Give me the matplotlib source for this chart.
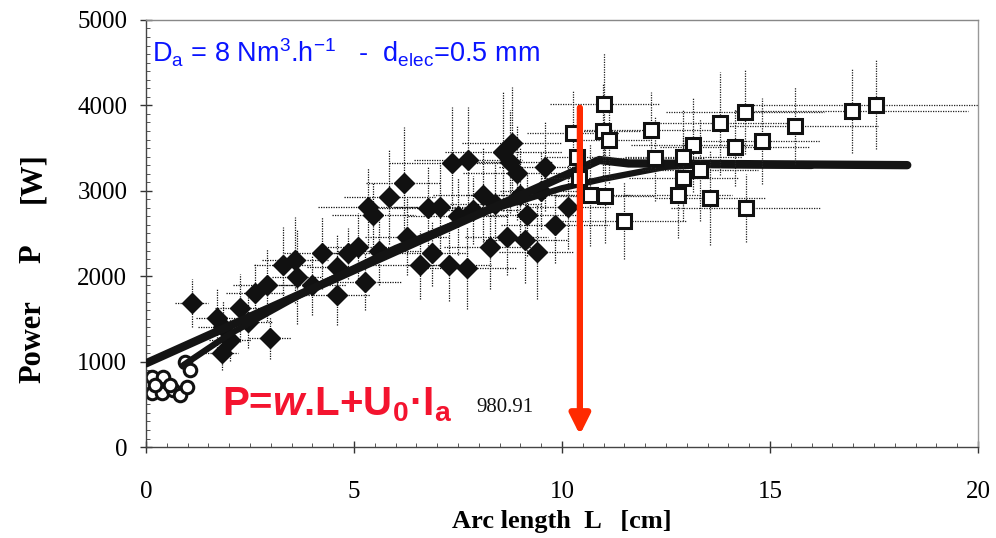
import numpy as np
import matplotlib
matplotlib.use("Agg")
import matplotlib.pyplot as plt
from matplotlib.ticker import MultipleLocator

# filled diamonds: arc length [cm], power [W], x error, y error
dia_L = [1.10, 1.70, 1.85, 2.02, 1.82, 2.26, 2.62, 2.90, 2.98, 3.30, 3.58, 3.62,
         4.22, 4.58, 4.58, 4.86, 5.10, 5.26, 5.34, 5.46, 5.85, 6.19, 6.27, 6.59,
         6.79, 6.87, 7.07, 7.29, 7.35, 7.71, 7.75, 8.11, 8.27, 8.59, 8.75, 8.79,
         8.91, 9.11, 9.15, 9.39, 9.59, 9.83, 10.15, 7.87, 8.67, 2.45, 4.0, 5.6,
         7.5, 8.4, 9.0, 9.5]
dia_P = [1683, 1507, 1405, 1253, 1097, 1628, 1803, 1897, 1276, 2131, 2190, 1994,
         2268, 2111, 1780, 2268, 2345, 1936, 2814, 2717, 2924, 3095, 2463, 2131,
         2795, 2268, 2814, 2131, 3329, 2092, 3361, 2951, 2345, 3458, 3341, 3564,
         3204, 2424, 2717, 2287, 3282, 2600, 2814, 2775, 2463, 1460, 1900, 2300,
         2700, 2850, 2950, 3000]
dia_xe = [0.4, 0.5, 0.6, 0.5, 0.4, 0.6, 0.7, 0.8, 0.5, 0.7, 0.8, 0.6,
          0.9, 0.7, 0.8, 0.6, 0.8, 0.9, 1.2, 1.0, 1.1, 0.9, 1.0, 1.2,
          1.3, 0.9, 1.1, 1.0, 1.5, 1.2, 1.3, 1.2, 1.1, 1.4, 1.0, 1.2,
          1.3, 1.0, 1.2, 0.9, 1.1, 1.3, 1.0, 1.1, 1.0, 0.6, 0.8, 1.0,
          1.2, 1.1, 1.3, 1.0]
dia_ye = [280, 350, 300, 250, 200, 400, 350, 420, 250, 450, 500, 550,
          420, 380, 350, 300, 400, 330, 450, 380, 550, 650, 450, 400,
          500, 380, 520, 420, 650, 480, 620, 550, 500, 700, 600, 650,
          550, 500, 480, 550, 520, 450, 500, 400, 450, 300, 350, 400,
          450, 500, 550, 450]

# open squares
sq_L = [10.26, 11.02, 10.99, 11.14, 12.13, 13.80, 14.40, 13.16, 14.16, 14.80,
        15.60, 16.96, 17.55, 10.37, 12.24, 12.92, 12.92, 13.32, 10.67, 11.03,
        11.49, 12.78, 13.57, 14.42, 10.40]
sq_P = [3681, 4013, 3700, 3595, 3712, 3790, 3926, 3536, 3509, 3583,
        3763, 3938, 4005, 3400, 3380, 3400, 3146, 3243, 2951, 2939,
        2650, 2951, 2912, 2795, 3146]
sq_xe = [1.1, 1.3, 0.9, 1.0, 1.6, 1.8, 1.9, 1.5, 1.8, 1.4,
         2.0, 2.8, 3.0, 0.8, 1.2, 1.4, 1.3, 1.4, 1.0, 1.2,
         1.5, 1.3, 1.3, 1.8, 0.9]
sq_ye = [500, 600, 550, 500, 450, 600, 500, 550, 450, 500,
         450, 500, 520, 450, 500, 550, 500, 600, 600, 550,
         450, 500, 550, 400, 500]

# open circles near the origin
circ_L = [0.14, 0.42, 0.14, 0.38, 0.66, 0.82, 0.98, 0.94, 1.06, 0.22, 0.58]
circ_P = [823, 823, 629, 629, 667, 609, 706, 999, 902, 726, 726]

# fitted curves
fitA_L = [0.0, 10.9, 11.6, 18.3]
fitA_P = [980, 3360, 3320, 3300]
fitB_L = [0.9, 2.0, 4.0, 6.0, 8.0, 10.0, 11.0, 12.5, 13.5, 16.0]
fitB_P = [960, 1320, 1860, 2330, 2730, 3030, 3140, 3280, 3300, 3290]

arrow_L = 10.43
arrow_top, arrow_bottom = 4005, 110

plt.rcParams["mathtext.fontset"] = "custom"
plt.rcParams["mathtext.rm"] = "Liberation Sans"
plt.rcParams["mathtext.bf"] = "Liberation Sans:bold"
plt.rcParams["mathtext.it"] = "Liberation Sans:italic:bold"

fig = plt.figure(figsize=(9.96, 5.38), dpi=100)
ax = fig.add_axes([0.1466, 0.169, 0.8353, 0.794])


def style_bars(bars):
    for b in bars:
        b.set_linestyle((0, (1, 1)))


_, _, bars = ax.errorbar(dia_L, dia_P, xerr=dia_xe, yerr=dia_ye, fmt="D",
                         color="#111111", ms=10, elinewidth=0.9, capsize=0, zorder=2)
style_bars(bars)
_, _, bars = ax.errorbar(circ_L, circ_P, yerr=60, fmt="o", mfc="white",
                         mec="#111111", ecolor="#111111", ms=9, mew=2.2,
                         elinewidth=0.8, capsize=0, zorder=2)
style_bars(bars)

ax.plot(fitB_L, fitB_P, color="#141414", lw=4.5, solid_capstyle="round", zorder=3)
ax.plot(fitA_L, fitA_P, color="#141414", lw=6, solid_capstyle="round", zorder=3)

_, _, bars = ax.errorbar(sq_L, sq_P, xerr=sq_xe, yerr=sq_ye, fmt="s",
                         mfc="white", mec="#111111", ecolor="#222222", ms=10,
                         mew=2.2, elinewidth=0.9, capsize=0, zorder=4)
style_bars(bars)

ax.annotate("", xy=(arrow_L, arrow_bottom), xytext=(arrow_L, arrow_top),
            arrowprops=dict(arrowstyle="-|>", color="#ff2a00", lw=4.5,
                            mutation_scale=30), zorder=5)

ax.text(0.14, 4500, r"D$_\mathrm{a}$ = 8 Nm$^\mathrm{3}$.h$^{-\mathrm{1}}$   -  d$_\mathrm{elec}$=0.5 mm",
        family="Liberation Sans", fontsize=19.5, color="#0a14ff", va="baseline", zorder=6)
ax.text(1.83, 375, r"P=$\mathit{w}$.L+U$_\mathbf{0}$·I$_\mathbf{a}$",
        family="Liberation Sans", fontweight="bold", fontsize=29, color="#f4142f",
        va="baseline", zorder=6)
ax.text(7.95, 410, "980.91", family="Liberation Serif", fontsize=15, color="#111111",
        va="baseline", zorder=6)

ax.set_xlim(0, 20)
ax.set_ylim(0, 5000)
ax.xaxis.set_major_locator(MultipleLocator(5))
ax.xaxis.set_minor_locator(MultipleLocator(0.5))
ax.yaxis.set_major_locator(MultipleLocator(1000))
ax.yaxis.set_minor_locator(MultipleLocator(100))
ax.tick_params(which="major", direction="inout", length=9, width=1, color="#333333",
               labelsize=18)
ax.tick_params(axis="x", which="major", pad=20)
ax.tick_params(axis="y", which="major", pad=9)
ax.tick_params(which="minor", direction="in", length=3, width=0.7, color="#555555")
for lab in ax.get_xticklabels() + ax.get_yticklabels():
    lab.set_family("Liberation Serif")
for s in ax.spines.values():
    s.set_color("#444444")
    s.set_linewidth(1)
ax.spines["top"].set_color("#888888")
ax.spines["right"].set_color("#999999")

ax.set_xlabel("Arc length  L   [cm]", family="Liberation Serif", fontweight="bold",
              fontsize=19, labelpad=5)

# y label drawn in three pieces, spaced as in the original
ylab_font = dict(family="Liberation Serif", fontweight="bold", fontsize=22,
                 rotation=90, ha="center", va="center")
fig.text(33 / 996, 1 - 342 / 538, "Power", **ylab_font)
fig.text(33 / 996, 1 - 254 / 538, "P", **ylab_font)
fig.text(33 / 996, 1 - 178 / 538, "[W]", **ylab_font)

fig.savefig("out.png", dpi=100)
